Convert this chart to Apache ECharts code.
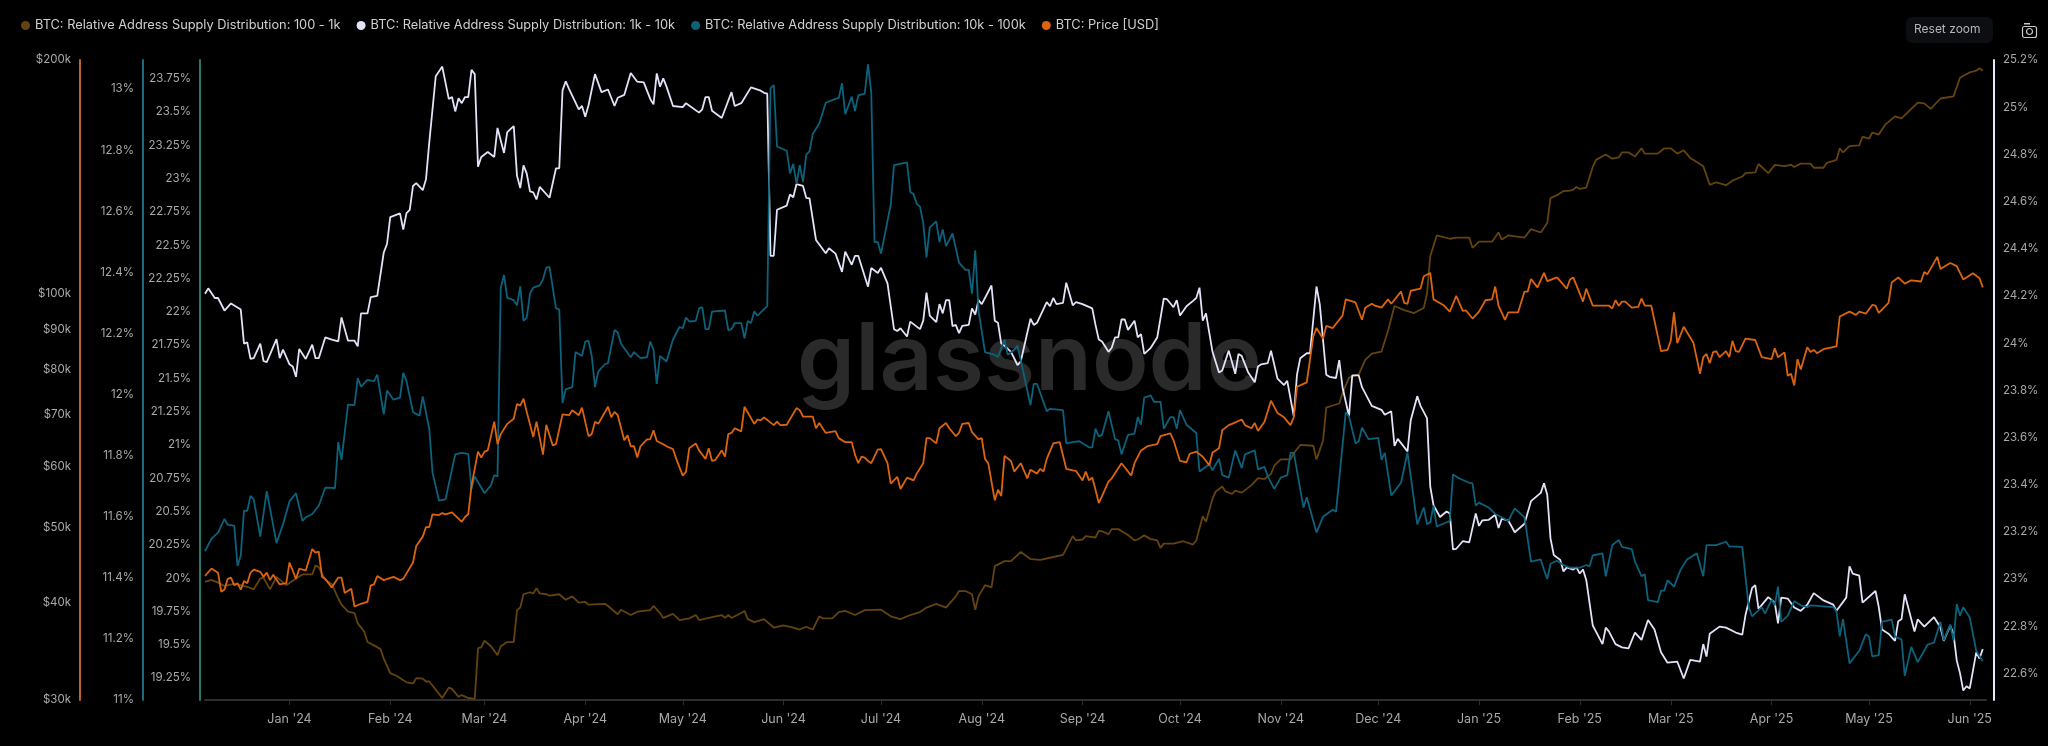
<!DOCTYPE html>
<html>
<head>
<meta charset="utf-8">
<title>BTC supply distribution</title>
<script src="https://cdn.jsdelivr.net/npm/echarts@6/dist/echarts.min.js"></script>
<style>
html, body { margin: 0; padding: 0; background: #000; }
#chart { width: 2048px; height: 746px; }
</style>
</head>
<body>
<div id="chart"></div>
<script>
// every pair is [days after 2023-12-06, value]
var supply100to1k = [[0,19.972],[2,19.987],[4,19.966],[6,19.941],[9,19.956],[11,19.947],[13,19.935],[15,19.916],[17,19.997],[18,20.003],[20,19.916],[22,20.009],[25,19.947],[28,19.997],[30,20.028],[33,20.028],[34,20.096],[35,20.081],[37,19.987],[39,19.956],[41,19.847],[42,19.801],[44,19.748],[46,19.738],[47,19.660],[49,19.598],[50,19.520],[52,19.495],[54,19.467],[55,19.396],[57,19.287],[59,19.265],[62,19.218],[64,19.209],[65,19.249],[67,19.246],[68,19.224],[69,19.224],[72,19.131],[73,19.100],[75,19.178],[76,19.168],[78,19.109],[79,19.122],[81,19.100],[83,19.094],[84,19.474],[85,19.480],[86,19.530],[88,19.489],[90,19.421],[91,19.489],[93,19.520],[95,19.520],[96,19.760],[97,19.779],[98,19.879],[100,19.894],[101,19.885],[102,19.925],[103,19.885],[105,19.879],[106,19.869],[109,19.879],[111,19.838],[113,19.863],[115,19.816],[117,19.822],[118,19.801],[123,19.807],[124,19.791],[127,19.729],[128,19.763],[131,19.723],[133,19.748],[137,19.760],
[138,19.791],[140,19.738],[141,19.701],[144,19.732],[146,19.685],[149,19.698],[151,19.723],[152,19.685],[156,19.707],[159,19.723],[160,19.701],[161,19.723],[162,19.701],[165,19.738],[166,19.754],[167,19.692],[169,19.670],[172,19.692],[175,19.629],[178,19.645],[181,19.629],[183,19.614],[185,19.635],[187,19.614],[189,19.713],[190,19.698],[193,19.698],[195,19.745],[197,19.754],[200,19.723],[203,19.760],[208,19.763],[211,19.713],[214,19.692],[217,19.723],[220,19.745],[222,19.779],[225,19.807],[228,19.779],[231,19.863],[232,19.903],[234,19.903],[236,19.879],[237,19.763],[238,19.863],[240,19.947],[242,19.931],[243,20.090],[246,20.128],[248,20.128],[251,20.196],[254,20.143],[257,20.137],[260,20.153],[264,20.174],[267,20.315],[268,20.283],[270,20.290],[271,20.315],[274,20.305],
[275,20.355],[276,20.352],[278,20.330],[279,20.368],[281,20.368],[284,20.324],[286,20.283],[287,20.290],[289,20.321],[291,20.293],[293,20.283],[294,20.227],[295,20.259],[298,20.259],[301,20.277],[304,20.252],[305,20.283],[307,20.464],[308,20.424],[310,20.595],[311,20.651],[313,20.688],[314,20.651],[316,20.632],[317,20.657],[319,20.642],[322,20.698],[324,20.751],[326,20.744],[328,20.782],[329,20.844],[331,20.891],[334,20.891],[335,20.938],[337,21.000],[341,20.994],[342,20.891],[344,21.031],[345,21.280],[347,21.296],[349,21.311],[350,21.389],[352,21.505],[355,21.529],[357,21.638],[359,21.685],[362,21.701],[364,21.857],[366,22.043],[369,22.012],[372,21.990],[375,22.028],[376,22.137],[377,22.417],[379,22.573],[383,22.548],[385,22.557],[389,22.557],[390,22.480],[392,22.526],[396,22.526],[398,22.595],[399,22.542],[401,22.573],[406,22.557],[408,22.620],[411,22.595],
[413,22.666],[414,22.853],[416,22.875],[418,22.906],[420,22.909],[421,22.916],[422,22.937],[423,22.922],[425,22.931],[427,23.087],[428,23.140],[431,23.180],[433,23.149],[435,23.159],[436,23.196],[438,23.196],[440,23.165],[442,23.227],[443,23.187],[445,23.187],[447,23.187],[449,23.227],[451,23.227],[453,23.187],[455,23.212],[457,23.155],[459,23.124],[461,23.093],[463,22.953],[465,22.972],[468,22.950],[470,22.984],[473,23.015],[474,23.040],[477,23.046],[478,23.109],[481,23.040],[483,23.103],[486,23.093],[488,23.103],[489,23.087],[491,23.112],[494,23.112],[495,23.081],[498,23.081],[499,23.118],[502,23.140],[503,23.227],[504,23.196],[506,23.243],[509,23.249],[510,23.314],[512,23.299],[513,23.345],[515,23.330],[517,23.405],[520,23.467],[522,23.451],[527,23.570],[529,23.564],[531,23.523],[534,23.601],[538,23.617],[540,23.757],[543,23.797],[545,23.810],[546,23.828],[547,23.810]];

var supply1kto10k = [[0,24.209],[1,24.232],[3,24.191],[4,24.191],[6,24.138],[8,24.168],[11,24.142],[12,23.998],[13,24.003],[14,23.933],[15,23.936],[17,23.998],[18,23.924],[19,23.919],[22,24.017],[23,23.936],[24,23.972],[26,23.910],[27,23.901],[28,23.857],[29,23.975],[31,23.933],[33,23.993],[34,23.936],[35,23.936],[37,24.024],[39,24.015],[41,24.007],[42,24.109],[44,24.010],[46,24.010],[47,23.986],[48,24.126],[50,24.126],[51,24.195],[53,24.200],[55,24.384],[56,24.420],[57,24.534],[60,24.550],[61,24.481],[62,24.551],[63,24.565],[64,24.666],[65,24.678],[67,24.648],[68,24.695],[69,24.850],[71,25.131],[73,25.172],[75,25.035],[76,25.043],[77,24.982],[78,25.038],[79,25.017],[80,25.043],[81,25.043],[82,25.158],[83,25.140],[84,24.748],[85,24.789],[87,24.810],[89,24.789],[90,24.912],[92,24.806],[93,24.894],[95,24.920],[96,24.709],[97,24.657],[98,24.753],[99,24.718],[100,24.643],[101,24.639],[102,24.609],[103,24.662],[106,24.616],[108,24.741],[109,24.741],[110,25.070],[111,25.110],[112,25.078],[115,24.991],[116,25.005],[117,24.959],[118,25.008],[120,25.140],[122,25.064],[124,25.075],[126,25.005],[127,25.040],[129,25.052],[131,25.145],[133,25.108],[135,25.105],[137,25.035],
[138,25.012],[139,25.143],[140,25.087],[141,25.122],[142,25.087],[144,25.005],[147,25.000],[148,25.017],[152,24.977],[153,24.991],[154,25.043],[155,25.043],[156,24.985],[159,24.954],[162,25.064],[163,25.005],[165,25.017],[168,25.084],[171,25.070],[172,25.061],[173,25.057],[174,24.370],[175,24.370],[176,24.565],[179,24.583],[180,24.630],[181,24.618],[182,24.674],[184,24.666],[185,24.616],[186,24.613],[188,24.437],[191,24.381],[192,24.402],[194,24.379],[196,24.302],[197,24.388],[199,24.332],[200,24.370],[201,24.370],[204,24.239],[205,24.318],[207,24.297],[208,24.319],[210,24.253],[212,24.059],[213,24.051],[214,24.063],[216,24.028],[217,24.091],[220,24.059],[221,24.095],[222,24.214],[223,24.116],[225,24.089],[226,24.165],[227,24.126],[228,24.182],[229,24.182],[230,24.072],[231,24.077],[232,24.042],[233,24.073],[235,24.077],[236,24.147],[237,24.121],[238,24.182],[239,24.165],[242,24.244],[243,24.095],[244,24.086],[245,23.998],[246,23.989],[248,23.963],[250,23.907],[251,23.922],[254,24.103],[255,24.077],[256,24.086],[259,24.174],[260,24.156],[261,24.191],[262,24.165],[264,24.170],[265,24.256],[267,24.160],[268,24.174],[270,24.165],[273,24.147],[274,24.077],
[275,24.015],[276,24.007],[278,23.963],[279,23.980],[280,24.024],[281,24.024],[282,24.100],[283,24.100],[284,24.056],[286,24.095],[287,24.024],[288,24.038],[289,23.954],[291,23.980],[293,24.024],[295,24.188],[296,24.186],[298,24.152],[299,24.182],[300,24.117],[302,24.156],[304,24.179],[305,24.191],[306,24.235],[307,24.095],[308,24.126],[310,23.963],[312,23.875],[313,23.884],[315,23.968],[317,23.870],[318,23.954],[319,23.945],[321,23.875],[323,23.834],[324,23.901],[325,23.910],[327,23.915],[328,23.968],[330,23.849],[332,23.822],[333,23.840],[335,23.690],[336,23.866],[337,23.936],[339,23.957],[340,23.957],[342,24.240],[343,24.165],[345,23.866],[346,23.857],[348,23.852],[349,23.928],[350,23.813],[352,23.690],[353,23.863],[355,23.863],[356,23.813],[359,23.734],[362,23.717],[363,23.696],[365,23.711],[366,23.564],[367,23.594],[370,23.541],[371,23.673],[373,23.775],[374,23.734],[376,23.682],[377,23.392],[378,23.313],[380,23.263],[382,23.286],[383,23.278],[384,23.125],[385,23.128],[387,23.160],[389,23.155],[391,23.278],[392,23.225],[393,23.248],[395,23.251],[397,23.272],[398,23.216],[399,23.255],[401,23.248],[403,23.198],[406,23.234],[408,23.330],[411,23.365],
[412,23.406],[413,23.357],[414,23.172],[415,23.102],[417,23.081],[418,23.032],[419,23.049],[421,23.040],[422,23.049],[423,23.023],[424,23.040],[425,22.996],[427,22.803],[428,22.777],[430,22.724],[431,22.794],[432,22.777],[434,22.724],[436,22.710],[438,22.706],[440,22.773],[442,22.742],[444,22.826],[446,22.786],[448,22.689],[450,22.645],[453,22.650],[455,22.578],[457,22.657],[460,22.650],[461,22.724],[462,22.671],[463,22.768],[466,22.798],[468,22.794],[471,22.773],[473,22.764],[474,22.847],[476,22.961],[477,22.974],[478,22.873],[481,22.923],[483,22.900],[484,22.812],[485,22.921],[487,22.917],[489,22.879],[491,22.865],[493,22.891],[495,22.940],[498,22.909],[501,22.891],[502,22.865],[505,22.921],[506,23.054],[507,23.023],[509,23.014],[510,22.900],[514,22.949],[515,22.882],[516,22.786],[518,22.768],[520,22.738],[521,22.821],[522,22.829],[523,22.935],[526,22.777],[527,22.829],[529,22.798],[532,22.838],[534,22.794],[535,22.738],[537,22.803],[538,22.768],[539,22.654],[540,22.601],[541,22.527],[542,22.545],[543,22.536],[545,22.689],[546,22.663],[547,22.703]];

var supply10kto100k = [[0,11.487],[2,11.528],[4,11.548],[6,11.593],[7,11.573],[9,11.571],[10,11.439],[11,11.473],[12,11.620],[13,11.619],[14,11.668],[15,11.657],[17,11.535],[19,11.684],[22,11.514],[24,11.575],[26,11.650],[28,11.677],[30,11.586],[31,11.598],[33,11.609],[35,11.636],[37,11.695],[40,11.694],[41,11.844],[42,11.786],[44,11.967],[46,11.965],[47,12.054],[48,12.026],[50,12.048],[52,12.044],[53,12.065],[55,11.935],[56,12.013],[58,11.983],[60,11.990],[61,12.071],[62,12.044],[64,11.942],[66,11.931],[67,11.994],[69,11.888],[70,11.745],[72,11.653],[74,11.657],[77,11.804],[79,11.809],[81,11.806],[82,11.691],[83,11.732],[86,11.677],[88,11.704],[89,11.736],[90,11.732],[91,12.350],[92,12.391],[93,12.316],[95,12.309],[96,12.292],[97,12.354],[98,12.241],[99,12.252],[100,12.330],[101,12.350],[103,12.357],[104,12.377],[105,12.415],[106,12.418],[108,12.282],[109,12.279],[110,11.972],[111,12.017],[113,12.024],[114,12.139],[116,12.126],[117,12.173],[118,12.176],[119,12.126],[120,12.024],[121,12.075],[123,12.099],[124,12.103],[126,12.211],[127,12.203],[128,12.166],[131,12.122],[132,12.139],[134,12.119],[136,12.122],[137,12.173],
[138,12.146],[139,12.035],[140,12.126],[142,12.108],[144,12.180],[146,12.221],[147,12.217],[148,12.252],[149,12.239],[151,12.241],[152,12.282],[153,12.286],[154,12.214],[155,12.214],[156,12.271],[160,12.275],[161,12.211],[162,12.214],[163,12.234],[165,12.234],[166,12.184],[167,12.241],[168,12.234],[169,12.272],[170,12.258],[173,12.289],[174,13.002],[175,13.013],[176,12.812],[179,12.798],[180,12.724],[181,12.755],[182,12.690],[183,12.751],[184,12.696],[185,12.785],[186,12.796],[187,12.853],[189,12.887],[191,12.955],[194,12.968],[195,12.971],[196,13.019],[197,12.918],[199,12.975],[200,12.928],[201,12.979],[203,12.985],[204,13.081],[205,12.989],[206,12.499],[207,12.499],[208,12.461],[211,12.622],[212,12.751],[216,12.760],[217,12.663],[218,12.656],[219,12.624],[220,12.615],[221,12.561],[222,12.449],[223,12.547],[225,12.567],[226,12.499],[227,12.540],[228,12.486],[230,12.527],[232,12.432],[234,12.408],[235,12.408],[236,12.330],[237,12.472],[238,12.275],[240,12.139],[243,12.130],[244,12.123],[246,12.180],[247,12.130],[249,12.146],[250,12.160],[251,12.112],[254,11.965],[255,12.035],[256,12.035],[259,11.945],[260,11.953],[264,11.949],[265,11.840],[267,11.844],[269,11.847],[272,11.827],[273,11.827],[274,11.888],
[275,11.863],[276,11.868],[278,11.945],[280,11.854],[281,11.850],[282,11.804],[284,11.868],[286,11.872],[287,11.926],[288,11.901],[289,11.990],[291,11.997],[292,11.976],[294,11.976],[295,11.888],[297,11.926],[298,11.926],[299,11.888],[300,11.949],[302,11.901],[305,11.874],[306,11.748],[309,11.772],[310,11.752],[312,11.790],[313,11.736],[315,11.728],[317,11.817],[319,11.759],[320,11.804],[323,11.817],[324,11.755],[326,11.763],[327,11.732],[329,11.691],[331,11.728],[333,11.736],[334,11.809],[335,11.810],[338,11.630],[339,11.664],[342,11.548],[344,11.600],[347,11.623],[348,11.616],[351,11.942],[352,11.929],[354,11.840],[355,11.847],[356,11.891],[358,11.854],[361,11.858],[362,11.786],[363,11.809],[365,11.670],[368,11.711],[370,11.810],[373,11.575],[375,11.630],[376,11.575],[377,11.582],[378,11.636],[379,11.568],[383,11.586],[384,11.738],[386,11.725],[389,11.711],[390,11.709],[391,11.636],[392,11.646],[395,11.630],[397,11.609],[399,11.598],[401,11.586],[403,11.627],[406,11.598],[408,11.453],[411,11.460],
[412,11.426],[413,11.396],[414,11.446],[416,11.456],[418,11.442],[420,11.433],[423,11.433],[425,11.442],[426,11.437],[427,11.473],[430,11.480],[431,11.405],[433,11.507],[435,11.524],[436,11.501],[439,11.494],[440,11.453],[442,11.405],[443,11.412],[444,11.327],[447,11.320],[448,11.358],[449,11.358],[450,11.392],[452,11.371],[454,11.426],[456,11.460],[459,11.480],[461,11.405],[462,11.507],[465,11.507],[468,11.518],[469,11.503],[473,11.501],[475,11.304],[476,11.274],[479,11.304],[480,11.283],[482,11.328],[483,11.310],[484,11.371],[485,11.256],[487,11.276],[489,11.324],[491,11.310],[493,11.304],[494,11.310],[501,11.304],[502,11.290],[503,11.208],[504,11.265],[506,11.120],[509,11.161],[511,11.215],[512,11.208],[513,11.143],[515,11.147],[516,11.256],[519,11.263],[520,11.208],[522,11.198],[523,11.079],[525,11.174],[527,11.124],[530,11.181],[532,11.188],[534,11.256],[535,11.195],[537,11.247],[538,11.195],[539,11.314],[540,11.276],[541,11.304],[543,11.270],[545,11.161],[547,11.127]];

var priceUsd = [[0,43330],[2,44300],[4,43760],[5,41350],[6,41620],[7,42960],[8,43120],[9,42150],[10,42420],[11,41620],[12,42690],[13,42420],[14,43760],[15,44140],[17,43870],[18,43220],[19,43760],[20,42800],[21,43490],[23,42260],[25,42420],[26,45100],[28,42960],[29,44300],[31,44030],[33,46930],[34,46440],[35,46560],[36,43220],[37,42960],[39,41880],[41,43120],[42,43120],[43,41190],[45,41720],[46,39580],[48,39900],[50,40140],[51,42150],[52,42260],[53,43330],[55,42800],[58,43220],[60,42800],[61,42960],[64,45100],[65,47350],[67,48690],[68,50080],[69,50080],[70,52020],[72,51900],[73,52210],[74,52020],[76,52330],[79,50870],[80,51600],[81,52020],[82,56630],[84,62640],[85,61550],[86,62640],[87,62870],[89,68460],[90,64040],[91,65980],[93,68020],[95,69070],[96,72150],[97,71800],[98,73290],[99,70480],[101,65430],[102,68460],[104,62090],[105,67840],[107,63800],[108,64040],[110,69950],[112,69780],[113,70830],[115,69780],[116,71360],[118,65590],[119,65980],[120,68460],[121,68020],[124,71540],[125,69340],[126,70480],[127,69780],[129,64810],[130,65740],[131,63650],[132,63650],[133,61550],[134,63650],[136,64970],[137,64970],
[138,66750],[139,64660],[141,64040],[142,63650],[144,63100],[145,61310],[147,58350],[148,59040],[149,63260],[151,64190],[152,62870],[154,61310],[155,63260],[156,60930],[157,61090],[159,62870],[160,61710],[161,65980],[162,66210],[163,67140],[165,66520],[166,71540],[169,68020],[170,68900],[171,68720],[172,69340],[175,67760],[176,68460],[177,67760],[179,67840],[182,71270],[183,70830],[184,69510],[187,69510],[188,67140],[189,68190],[191,66210],[194,66590],[195,65200],[197,64420],[199,64420],[200,62090],[201,60530],[202,61710],[203,61550],[204,60930],[205,60530],[207,63030],[208,63100],[210,60530],[211,56980],[213,58140],[214,56080],[216,58000],[218,57520],[219,58690],[221,60530],[222,65200],[223,65200],[225,64190],[226,67140],[228,68190],[229,67140],[231,65590],[232,66210],[233,68020],[235,68190],[236,66360],[238,64970],[239,65200],[240,61310],[241,60530],[243,54230],[244,55950],[245,54920],[246,61860],[248,60930],[249,59040],[251,60530],[253,57870],[254,59380],[256,58690],[257,59530],[258,59040],[259,61310],[261,64190],[263,64420],[265,59530],[267,59240],[268,59170],[270,57520],[271,59040],[272,57520],[273,58000],[274,55950],
[275,53770],[276,54920],[278,57320],[279,57870],[282,60530],[285,58350],[286,60530],[288,62870],[290,63650],[293,64040],[294,65590],[297,66130],[298,64810],[300,60930],[302,60700],[303,62250],[305,62640],[307,61710],[309,60160],[310,62480],[312,63260],[313,66750],[315,67760],[316,68020],[319,68900],[320,67760],[322,67140],[323,68190],[324,66590],[326,68460],[328,72850],[330,70220],[332,69340],[334,67760],[335,69340],[336,75930],[339,76920],[341,88110],[342,90360],[344,87550],[345,90920],[347,90360],[350,93730],[351,98370],[354,97480],[356,92600],[357,95980],[359,97100],[360,96540],[362,95980],[364,98370],[365,97100],[368,100670],[369,97350],[370,97100],[371,100920],[374,101550],[375,105370],[377,106390],[378,98370],[381,96760],[383,94850],[385,99390],[387,95080],[388,95190],[390,92940],[392,94850],[394,98120],[396,98370],[397,102190],[398,96540],[400,92600],[401,94630],[404,94630],[406,100670],[407,100670],[408,104480],[410,101940],
[412,106390],[413,103840],[416,104980],[419,101550],[420,104350],[421,104980],[424,97730],[425,101550],[427,96540],[432,96540],[433,95750],[434,98120],[435,96540],[436,97730],[437,97730],[439,95980],[441,96200],[442,98630],[443,96540],[445,96540],[448,84370],[450,84670],[451,87000],[452,94630],[453,86420],[455,90700],[456,89230],[458,86420],[460,78910],[461,82880],[462,83680],[463,81390],[464,84070],[465,84370],[466,82880],[468,84370],[469,82880],[470,87000],[471,84370],[472,84170],[474,87550],[477,87210],[479,82880],[482,82390],[483,85070],[484,82880],[486,84070],[487,78420],[488,78910],[489,76230],[490,82390],[491,79900],[493,85360],[494,84170],[495,84670],[496,83870],[498,84860],[502,85560],[503,93500],[506,94850],[508,93950],[509,94850],[511,94290],[513,96760],[514,96540],[515,94510],[518,97350],[519,103460],[521,104980],[523,103070],[525,104100],[528,103720],[529,106650],[530,106010],[533,111590],[534,107660],[537,109580],[539,108560],[541,104350],[544,106270],[546,104730],[547,101940]];

// x axis counts days from 2023-12-06
var monthDays = [26,57,86,117,147,178,208,239,270,300,331,361,392,423,451,482,512,543];
var monthLabels = ["Jan '24","Feb '24","Mar '24","Apr '24","May '24","Jun '24","Jul '24","Aug '24","Sep '24","Oct '24","Nov '24","Dec '24","Jan '25","Feb '25","Mar '25","Apr '25","May '25","Jun '25"];
var priceTicks = [30000,40000,50000,60000,70000,80000,90000,100000,200000];
var tealTicks = [11,11.2,11.4,11.6,11.8,12,12.2,12.4,12.6,12.8,13];
var greenTicks = [19.25,19.5,19.75,20,20.25,20.5,20.75,21,21.25,21.5,21.75,22,22.25,22.5,22.75,23,23.25,23.5,23.75];
var rightTicks = [22.6,22.8,23,23.2,23.4,23.6,23.8,24,24.2,24.4,24.6,24.8,25,25.2];

var FONT = 'Inter';
var LABEL = '#a8a8a8';

function percent(v) { return v + '%'; }

function yAxis(position, offset, color, width, ticks, min, max, formatter) {
    return {
        type: 'value',
        position: position,
        offset: offset,
        min: min,
        max: max,
        axisLine: { show: true, onZero: false, lineStyle: { color: color, width: width } },
        axisTick: { show: false },
        splitLine: { show: false },
        axisLabel: { customValues: ticks, formatter: formatter, color: LABEL, fontFamily: FONT, fontSize: 11.5, margin: 9 }
    };
}

function line(name, points, axis, color, width) {
    return {
        name: name,
        type: 'line',
        data: points,
        yAxisIndex: axis,
        showSymbol: false,
        symbol: 'none',
        smooth: false,
        lineStyle: { color: color, width: width },
        itemStyle: { color: color },
        z: 3
    };
}

var priceAxis = yAxis('left', 125, '#b9632a', 2, priceTicks, 30000, 200000, function (v) { return '$' + Math.round(v / 1000) + 'k'; });
priceAxis.type = 'log';
priceAxis.logBase = 10;

var chart = echarts.init(document.getElementById('chart'));
var option = {
    backgroundColor: '#000',
    animation: false,
    grid: { left: 205, right: 62, top: 60, bottom: 46 },
    legend: {
        left: 16,
        top: 14,
        icon: 'circle',
        itemWidth: 9,
        itemHeight: 9,
        itemGap: 16,
        textStyle: { color: '#cfcfcf', fontFamily: FONT, fontSize: 12.8 },
        data: ['BTC: Relative Address Supply Distribution: 100 - 1k', 'BTC: Relative Address Supply Distribution: 1k - 10k', 'BTC: Relative Address Supply Distribution: 10k - 100k', 'BTC: Price [USD]']
    },
    xAxis: {
        type: 'value',
        min: 0,
        max: 548,
        axisLine: { onZero: false, lineStyle: { color: '#2e2e2e', width: 2 } },
        axisTick: { show: true, customValues: monthDays, length: 5, lineStyle: { color: '#2e2e2e' } },
        splitLine: { show: false },
        axisLabel: {
            customValues: monthDays,
            formatter: function (v) { return monthLabels[monthDays.indexOf(v)]; },
            color: LABEL,
            fontFamily: FONT,
            fontSize: 12.5,
            margin: 13
        }
    },
    yAxis: [
        priceAxis,
        yAxis('left', 62, '#1d6b7d', 2, tealTicks, 11, 13.095, percent),
        yAxis('left', 5, '#26796a', 2, greenTicks, 19.085, 23.89, percent),
        yAxis('right', 8, '#e8e8f8', 2, rightTicks, 22.487, 25.2, percent)
    ],
    series: [
        line('BTC: Relative Address Supply Distribution: 100 - 1k', supply100to1k, 2, '#644310', 1.8),
        line('BTC: Relative Address Supply Distribution: 1k - 10k', supply1kto10k, 3, '#e2e2f8', 1.8),
        line('BTC: Relative Address Supply Distribution: 10k - 100k', supply10kto100k, 1, '#0c617b', 1.8),
        line('BTC: Price [USD]', priceUsd, 0, '#dc640f', 1.8)
    ],
    graphic: [
        { type: 'text', left: 797, top: 316, z: 0, style: { text: 'glassnode', fill: '#2a2a2a', font: '600 93px Inter' } },
        { type: 'rect', left: 1906, top: 17, z: 1, shape: { width: 87, height: 26, r: 6 }, style: { fill: '#0c0e12' } },
        { type: 'text', left: 1914, top: 23, z: 2, style: { text: 'Reset zoom', fill: '#b5b5b5', font: '12px Inter' } },
        { type: 'rect', left: 2020, top: 24, z: 2, shape: { width: 14, height: 11, r: 2 }, style: { fill: 'none', stroke: '#c8c8c8', lineWidth: 1.2 } },
        { type: 'circle', left: 2024, top: 26, z: 2, shape: { r: 3 }, style: { fill: 'none', stroke: '#c8c8c8', lineWidth: 1.2 } },
        { type: 'rect', left: 2024, top: 23, z: 2, shape: { width: 6, height: 1.5 }, style: { fill: '#c8c8c8' } }
    ]
};
chart.setOption(option);
</script>
</body>
</html>
